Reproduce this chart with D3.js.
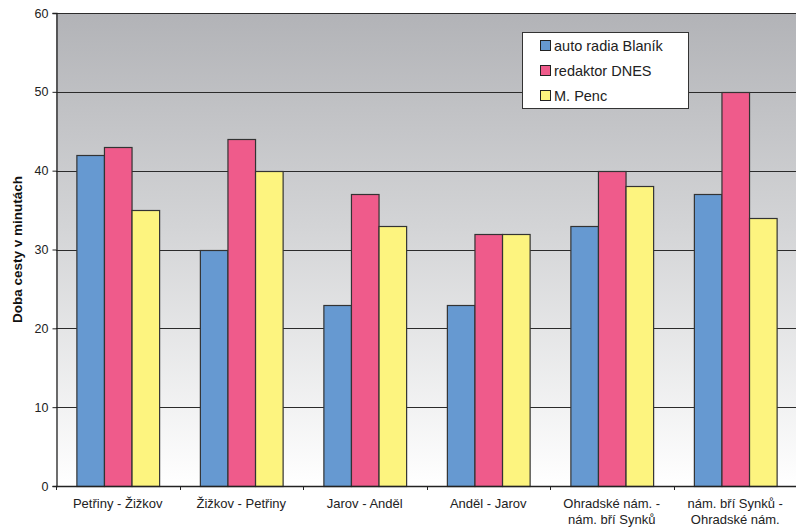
<!DOCTYPE html>
<html>
<head>
<meta charset="utf-8">
<script src="https://cdn.jsdelivr.net/npm/d3@7"></script>
<style>
  html, body { margin: 0; padding: 0; background: #fff; }
  svg { display: block; font-family: "Liberation Sans", Arial, sans-serif; }
</style>
</head>
<body>
<svg id="chart" width="796" height="527"></svg>
<script>
// Travel times (minutes) by route, for three travellers
const routes = [
  ["Petřiny - Žižkov"],
  ["Žižkov - Petřiny"],
  ["Jarov - Anděl"],
  ["Anděl - Jarov"],
  ["Ohradské nám. -", "nám. bří Synků"],
  ["nám. bří Synků -", "Ohradské nám."]
];
const seriesNames = ["auto radia Blaník", "redaktor DNES", "M. Penc"];
const autoRadia = [42, 30, 23, 23, 33, 37];
const redaktor  = [43, 44, 37, 32, 40, 50];
const penc      = [35, 40, 33, 32, 38, 34];
const yTicks = [0, 10, 20, 30, 40, 50, 60];
const colors = ["#6699d1", "#ef5b8b", "#fdf47f"];

const seriesValues = [autoRadia, redaktor, penc];
const svg = d3.select("#chart");
const margin = { left: 56, top: 13, right: -1, bottom: 41 };
const W = 796, H = 527;
const x0 = margin.left, x1 = W - margin.right, y0 = margin.top, y1 = H - margin.bottom;

const x = d3.scaleBand().domain(d3.range(routes.length)).range([x0, x1]).paddingInner(0.33).paddingOuter(0.165);
const xSlot = d3.scaleBand().domain(d3.range(routes.length)).range([x0, x1]);
const xs = d3.scaleBand().domain(d3.range(seriesNames.length)).range([0, x.bandwidth()]);
const y = d3.scaleLinear().domain([0, 60]).range([y1, y0]);

// plot-area gradient: grey at the top fading to white at the bottom
const defs = svg.append("defs");
const grad = defs.append("linearGradient").attr("id", "bg").attr("x1", 0).attr("y1", 0).attr("x2", 0).attr("y2", 1);
grad.append("stop").attr("offset", "0%").attr("stop-color", "#b2b3b7");
grad.append("stop").attr("offset", "45%").attr("stop-color", "#d3d4d6");
grad.append("stop").attr("offset", "100%").attr("stop-color", "#ffffff");
svg.append("rect").attr("x", x0).attr("y", y0).attr("width", x1 - x0).attr("height", y1 - y0).attr("fill", "url(#bg)");

// gridlines
svg.append("g").selectAll("line").data(yTicks.filter(d => d > 0)).join("line")
  .attr("x1", x0).attr("x2", x1)
  .attr("y1", d => Math.round(y(d)) + 0.5).attr("y2", d => Math.round(y(d)) + 0.5)
  .attr("stroke", "#2b2b2b").attr("stroke-width", 1);

// bars
const groups = svg.append("g").selectAll("g").data(routes).join("g")
  .attr("transform", (d, i) => `translate(${x(i)},0)`);
groups.selectAll("rect").data((d, i) => seriesValues.map((s, j) => ({ j, v: s[i] }))).join("rect")
  .attr("x", d => xs(d.j) + 0.5)
  .attr("y", d => Math.round(y(d.v)) + 0.5)
  .attr("width", xs.bandwidth())
  .attr("height", d => y1 - Math.round(y(d.v)))
  .attr("fill", d => colors[d.j])
  .attr("stroke", "#333")
  .attr("stroke-width", 1.2);

// y axis
const yAxis = svg.append("g").attr("transform", `translate(${x0 + 0.5},0)`)
  .call(d3.axisLeft(y).tickValues(yTicks).tickSize(4).tickPadding(4));
yAxis.select(".domain").attr("stroke", "#222").attr("stroke-width", 1.3);
yAxis.selectAll(".tick line").attr("stroke", "#222");
yAxis.selectAll("text").attr("font-size", 12.5).attr("fill", "#222");

// x axis: line with ticks at category boundaries
const xg = svg.append("g");
xg.append("line").attr("x1", x0).attr("x2", x1).attr("y1", y1 + 0.5).attr("y2", y1 + 0.5).attr("stroke", "#222").attr("stroke-width", 1.3);
xg.selectAll("line.tk").data(d3.range(routes.length + 1)).join("line").attr("class", "tk")
  .attr("x1", i => Math.round(i < routes.length ? xSlot(i) : x1) + 0.5)
  .attr("x2", i => Math.round(i < routes.length ? xSlot(i) : x1) + 0.5)
  .attr("y1", y1).attr("y2", y1 + 4).attr("stroke", "#222");
xg.selectAll("text").data(routes).join("text")
  .attr("text-anchor", "middle").attr("font-size", 13).attr("fill", "#222")
  .attr("x", (d, i) => xSlot(i) + xSlot.bandwidth() / 2)
  .attr("y", 508)
  .each(function (lines) {
    d3.select(this).selectAll("tspan").data(lines).join("tspan")
      .attr("x", d3.select(this).attr("x"))
      .attr("dy", (d, k) => k === 0 ? 0 : 16)
      .text(d => d);
  });

// y axis title
svg.append("text").attr("transform", `translate(22,${(y0 + y1) / 2}) rotate(-90)`)
  .attr("text-anchor", "middle").attr("font-size", 13.5).attr("font-weight", "bold").attr("fill", "#111")
  .text("Doba cesty v minutách");

// legend
const lg = svg.append("g").attr("transform", "translate(522,32)");
lg.append("rect").attr("x", 0.5).attr("y", 0.5).attr("width", 166).attr("height", 76)
  .attr("fill", "#fff").attr("stroke", "#333").attr("stroke-width", 1);
const li = lg.selectAll("g").data(seriesNames).join("g")
  .attr("transform", (d, i) => `translate(18,${8 + i * 25})`);
li.append("rect").attr("x", 0.5).attr("y", 0.5).attr("width", 10).attr("height", 10)
  .attr("fill", (d, i) => colors[i]).attr("stroke", "#222");
li.append("text").attr("x", 14).attr("y", 10.5).attr("font-size", 14.5).attr("fill", "#222").text(d => d);
</script>
</body>
</html>
